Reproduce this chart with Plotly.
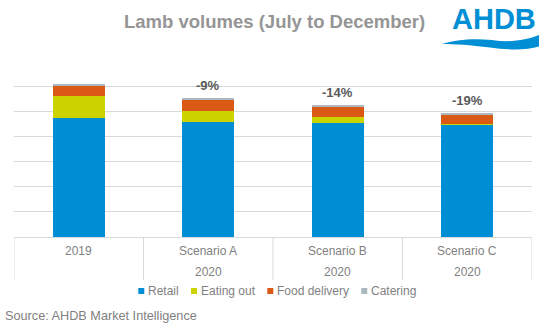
import plotly.graph_objects as go

# Lamb volumes by channel, July to December (one unit = one gridline step)
categories = ["2019", "Scenario A", "Scenario B", "Scenario C"]
year_labels = ["", "2020", "2020", "2020"]
series_names = ["Retail", "Eating out", "Food delivery", "Catering"]
retail = [4.72, 4.56, 4.52, 4.46]
eating_out = [0.88, 0.44, 0.24, 0.03]
food_delivery = [0.40, 0.48, 0.43, 0.39]
catering = [0.08, 0.04, 0.05, 0.05]

colors = ["#008FD5", "#CCD400", "#DA5A15", "#ADB9C1"]
series_values = [retail, eating_out, food_delivery, catering]

FONT = "Liberation Sans, Arial, sans-serif"
W, H = 550, 327
ML, MR, MT, MB = 14, 18, 61, 90
PW, PH = W - ML - MR, H - MT - MB


def px(x):
    return (x - ML) / PW


def py(y):
    return (H - MB - y) / PH


fig = go.Figure()
for name, vals, col in zip(series_names, series_values, colors):
    fig.add_trace(go.Bar(x=categories, y=vals, name=name, marker_color=col,
                         marker_line_width=0, showlegend=False))

totals = [sum(v) for v in zip(*series_values)]
base = totals[0]
annotations = []
for i, tot in enumerate(totals):
    if i == 0:
        continue
    pct = round((tot / base - 1) * 100)
    annotations.append(dict(x=i, y=tot, xref="x", yref="y", text=f"{pct}%",
                            showarrow=False, yanchor="middle", yshift=13,
                            font=dict(family=FONT, size=13, color="#595959",
                                      weight="bold")))

# two-row category labels (positioned by category index)
for i, (cat, yr) in enumerate(zip(categories, year_labels)):
    annotations.append(dict(x=i, y=py(250.7), xref="x", yref="paper", text=cat,
                            showarrow=False, yanchor="middle",
                            font=dict(family=FONT, size=12, color="#7F7F7F")))
    if yr:
        annotations.append(dict(x=i, y=py(272.3), xref="x", yref="paper", text=yr,
                                showarrow=False, yanchor="middle",
                                font=dict(family=FONT, size=12, color="#7F7F7F")))

shapes = []
# category divider lines below the axis
for i in range(len(categories) + 1):
    shapes.append(dict(type="line", xref="x", yref="paper", x0=i - 0.5, x1=i - 0.5,
                       y0=0, y1=py(280), line=dict(color="#D9D9D9", width=1)))

# legend: small squares followed by labels
legend_x = [138.3, 191.0, 267.3, 361.3]
legend_y = 291
for name, col, lx in zip(series_names, colors, legend_x):
    shapes.append(dict(type="rect", xref="paper", yref="paper",
                       x0=px(lx), x1=px(lx + 6), y0=py(legend_y - 3), y1=py(legend_y + 3),
                       fillcolor=col, line=dict(width=0)))
    annotations.append(dict(x=px(lx + 8), y=py(legend_y), xref="paper", yref="paper",
                            text=name, showarrow=False, xanchor="left", yanchor="middle",
                            font=dict(family=FONT, size=12, color="#7F7F7F")))

# title
annotations.append(dict(x=px(274), y=py(21), xref="paper", yref="paper",
                        text="Lamb volumes (July to December)", showarrow=False,
                        xanchor="center", yanchor="middle",
                        font=dict(family=FONT, size=18.5, color="#959595", weight="bold")))

# source note
annotations.append(dict(x=px(3), y=py(315.7), xref="paper", yref="paper",
                        text="Source: AHDB Market Intelligence", showarrow=False,
                        xanchor="left", yanchor="middle",
                        font=dict(family=FONT, size=12.7, color="#808080")))

# logo
annotations.append(dict(x=px(494), y=py(19), xref="paper", yref="paper",
                        text="AHDB", showarrow=False, xanchor="center", yanchor="middle",
                        font=dict(family=FONT, size=29, color="#008FD5", weight="bold")))
wave = [(442, 44), (455, 40), (472, 38), (492, 40), (510, 43), (526, 40), (539, 35),
        (539, 46.5), (526, 50.5), (508, 50), (490, 47.5), (470, 45), (455, 44)]
path = "M {:.4f},{:.4f} ".format(px(wave[0][0]), py(wave[0][1]))
path += "C {:.4f},{:.4f} {:.4f},{:.4f} {:.4f},{:.4f} ".format(
    px(wave[1][0]), py(wave[1][1]), px(wave[2][0]), py(wave[2][1]), px(wave[3][0]), py(wave[3][1]))
path += "C {:.4f},{:.4f} {:.4f},{:.4f} {:.4f},{:.4f} ".format(
    px(wave[4][0]), py(wave[4][1]), px(wave[5][0]), py(wave[5][1]), px(wave[6][0]), py(wave[6][1]))
path += "L {:.4f},{:.4f} ".format(px(wave[7][0]), py(wave[7][1]))
path += "C {:.4f},{:.4f} {:.4f},{:.4f} {:.4f},{:.4f} ".format(
    px(wave[8][0]), py(wave[8][1]), px(wave[9][0]), py(wave[9][1]), px(wave[10][0]), py(wave[10][1]))
path += "C {:.4f},{:.4f} {:.4f},{:.4f} {:.4f},{:.4f} Z".format(
    px(wave[11][0]), py(wave[11][1]), px(wave[12][0]), py(wave[12][1]), px(wave[0][0]), py(wave[0][1]))
shapes.append(dict(type="path", xref="paper", yref="paper", path=path,
                   fillcolor="#008FD5", line=dict(width=0)))

fig.update_layout(
    width=W, height=H,
    margin=dict(l=ML, r=MR, t=MT, b=MB, pad=0),
    barmode="stack", bargap=0.6,
    paper_bgcolor="white", plot_bgcolor="white",
    showlegend=False,
    xaxis=dict(type="category", range=[-0.5, 3.5], showticklabels=False,
               showline=True, linecolor="#D9D9D9", linewidth=1, showgrid=False,
               ticks=""),
    yaxis=dict(range=[0, 7], dtick=1, showticklabels=False, showgrid=True,
               gridcolor="#D9D9D9", gridwidth=1, zeroline=False, ticks=""),
    annotations=annotations, shapes=shapes,
    font=dict(family=FONT),
)

fig.write_html("out.html")
